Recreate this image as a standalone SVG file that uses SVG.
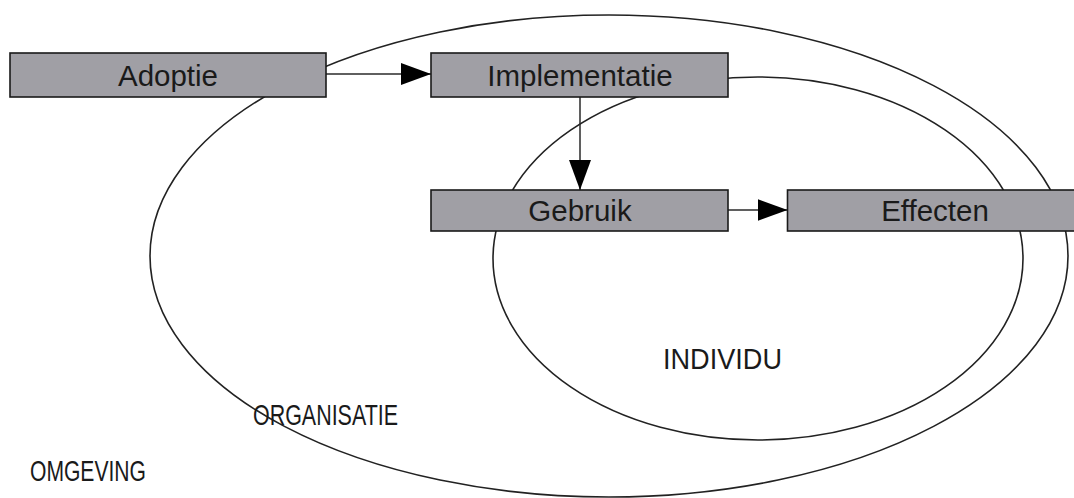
<svg xmlns="http://www.w3.org/2000/svg" width="1074" height="498" viewBox="0 0 1074 498">
<style>
.region{fill:none;stroke:#222;stroke-width:1.6}
.box{fill:#a09fa5;stroke:#1a1a1a;stroke-width:1.6}
.lbl{font-family:"Liberation Sans",Arial,sans-serif;font-size:29.5px;fill:#1a1a1a;text-anchor:middle}
.rlbl{font-family:"Liberation Sans",Arial,sans-serif;font-size:30px;fill:#1a1a1a}
.conn{stroke:#2a2a2a;stroke-width:1.5;fill:none}
</style>
<defs>
<marker id="arrow" markerUnits="userSpaceOnUse" markerWidth="30" markerHeight="22" refX="30" refY="11" orient="auto" viewBox="0 0 30 22">
<path d="M0,0 L30,11 L0,22 z" fill="#000"/>
</marker>
</defs>
<rect width="1074" height="498" fill="#fff"/>
<g id="regions">
<ellipse id="organisatie-boundary" class="region" cx="609" cy="256" rx="459" ry="241"/>
<ellipse id="individu-boundary" class="region" cx="758" cy="258.5" rx="265" ry="181.5"/>
</g>
<g id="region-labels">
<text class="rlbl" x="30" y="481" textLength="116" lengthAdjust="spacingAndGlyphs">OMGEVING</text>
<text class="rlbl" x="253" y="425" textLength="145" lengthAdjust="spacingAndGlyphs">ORGANISATIE</text>
<text class="rlbl" x="663" y="369" textLength="119" lengthAdjust="spacingAndGlyphs">INDIVIDU</text>
</g>
<g id="connectors">
<line class="conn" x1="326" y1="74" x2="431" y2="74" marker-end="url(#arrow)"/>
<line class="conn" x1="580" y1="97" x2="580" y2="190" marker-end="url(#arrow)"/>
<line class="conn" x1="728" y1="210" x2="787.5" y2="210" marker-end="url(#arrow)"/>
</g>
<g id="adoptie">
<rect class="box" x="10" y="53" width="316" height="44"/>
<text class="lbl" x="168" y="85.5">Adoptie</text>
</g>
<g id="implementatie">
<rect class="box" x="431" y="53" width="297" height="44"/>
<text class="lbl" x="580" y="85.5">Implementatie</text>
</g>
<g id="gebruik">
<rect class="box" x="431" y="190" width="297" height="41"/>
<text class="lbl" x="580" y="221">Gebruik</text>
</g>
<g id="effecten">
<rect class="box" x="787.5" y="190" width="300" height="41"/>
<text class="lbl" x="935" y="221">Effecten</text>
</g>
</svg>
